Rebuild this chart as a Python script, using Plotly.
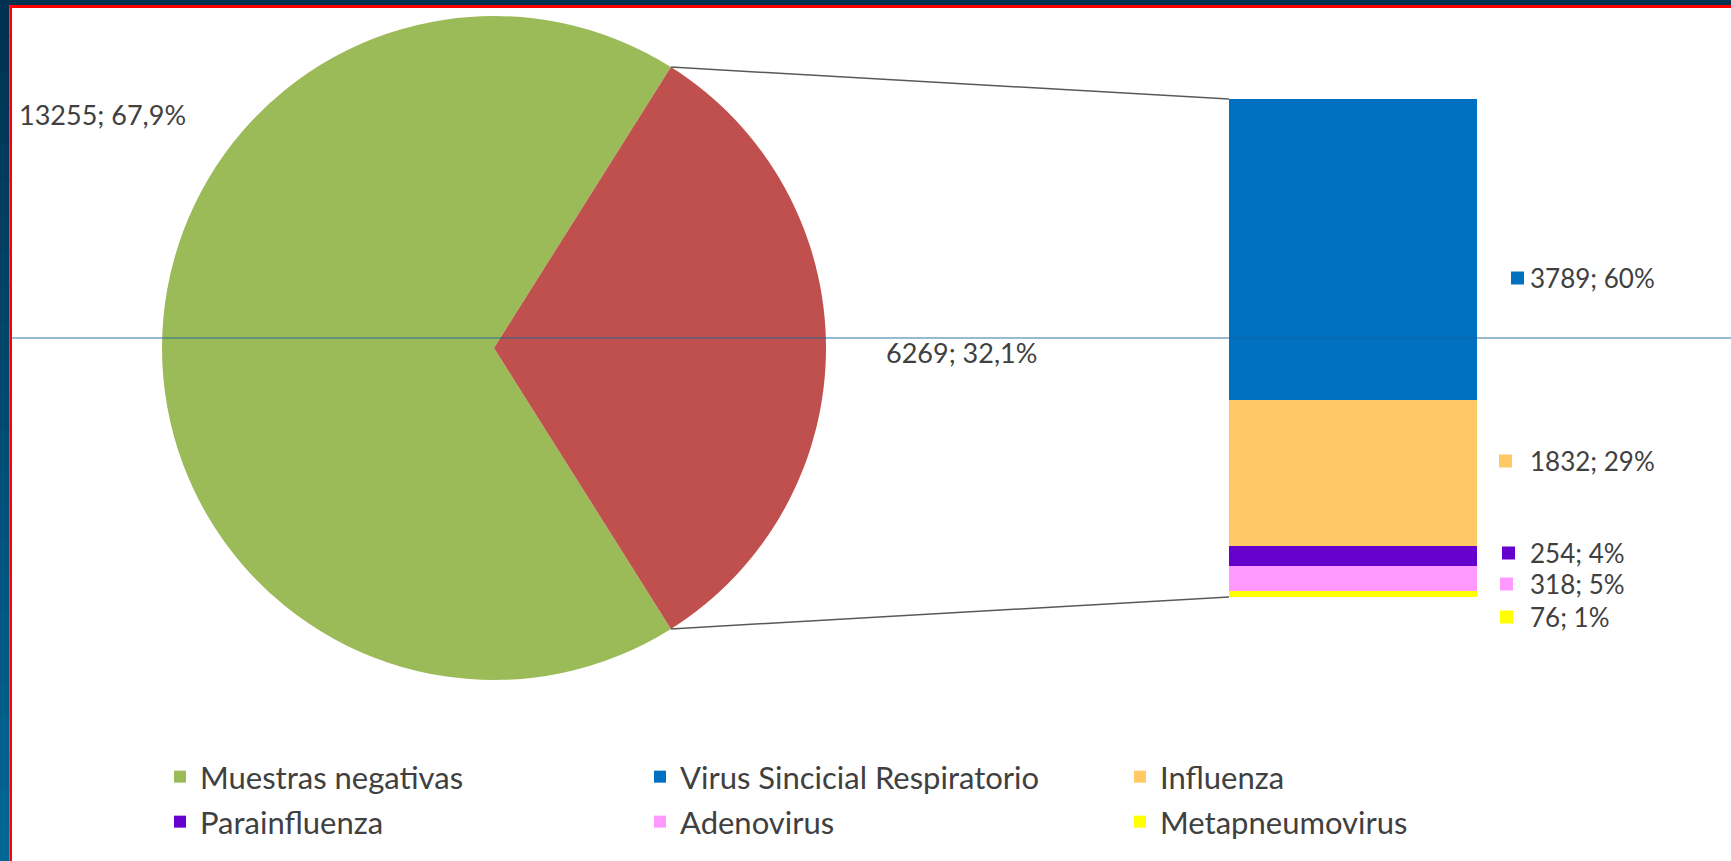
import math
import plotly.graph_objects as go

W, H = 1731, 861

# Samples: negative vs positive
sample_labels = ["Muestras negativas", "Muestras positivas"]
sample_values = [13255, 6269]
sample_colors = ["#9BBB59", "#C0504D"]

# Breakdown of the positive samples by virus (top to bottom of the column)
virus_labels = ["Virus Sincicial Respiratorio", "Influenza", "Parainfluenza",
                "Adenovirus", "Metapneumovirus"]
virus_values = [3789, 1832, 254, 318, 76]
virus_colors = ["#0070C0", "#FFC966", "#6600CC", "#FF99FF", "#FFFF00"]

TEXT = "#404040"
FONT = "Lato"


def fx(x):
    return x / W


def fy(y):
    return 1 - y / H


# pie placement (pixels)
PCX, PCY, PR = 494, 348, 332
# column placement (pixels)
BL, BR, BT, BB = 1229, 1477, 99, 597

total = sum(sample_values)
pos_share = sample_values[1] / total
half_angle = math.pi * pos_share  # half of the positive slice, centred on the right

fig = go.Figure()

# first slice (negatives) spans clockwise from `rotation`; it must end where
# the positive slice's upper edge sits, so the positive slice faces right
fig.add_trace(go.Pie(
    labels=sample_labels, values=sample_values, sort=False,
    direction="counterclockwise",
    rotation=90 + math.degrees(half_angle),
    marker=dict(colors=sample_colors, line=dict(width=0)),
    textinfo="none", hoverinfo="label+value+percent", showlegend=False,
    domain=dict(x=[fx(PCX - PR), fx(PCX + PR)], y=[fy(PCY + PR), fy(PCY - PR)]),
))

# legend entry for the negative samples (row 1)
fig.add_trace(go.Bar(
    x=[0], y=[0], name=sample_labels[0], width=1,
    marker=dict(color=sample_colors[0], line=dict(width=0)),
    legend="legend", legendrank=1, hoverinfo="skip",
))

legend_of = ["legend", "legend", "legend2", "legend2", "legend2"]
rank_of = [2, 3, 1, 2, 3]
# stack from the bottom up
for i in reversed(range(len(virus_labels))):
    fig.add_trace(go.Bar(
        x=[0], y=[virus_values[i]], name=virus_labels[i], width=1,
        marker=dict(color=virus_colors[i], line=dict(width=0)),
        legend=legend_of[i], legendrank=rank_of[i],
        hovertemplate=virus_labels[i] + ": %{y}<extra></extra>",
    ))

vtotal = sum(virus_values)

annotations = []
# pie labels
neg_pct = 100 * sample_values[0] / total
pos_pct = 100 * sample_values[1] / total
annotations.append(dict(
    text=f"{sample_values[0]}; {neg_pct:.1f}%".replace(".", ","),
    x=fx(17), y=fy(114), xref="paper", yref="paper",
    xanchor="left", yanchor="middle", showarrow=False,
    font=dict(family=FONT, size=27, color=TEXT)))
annotations.append(dict(
    text=f"{sample_values[1]}; {pos_pct:.1f}%".replace(".", ","),
    x=fx(884), y=fy(353), xref="paper", yref="paper",
    xanchor="left", yanchor="middle", showarrow=False,
    font=dict(family=FONT, size=27, color=TEXT)))

# column labels with colour keys
label_y = [278, 461, 553, 584, 617]
key_x = [1511, 1499, 1502, 1500, 1500]
shapes = []
for i, v in enumerate(virus_values):
    pct = round(100 * v / vtotal)
    annotations.append(dict(
        text=f"{v}; {pct}%", x=fx(1529), y=fy(label_y[i]),
        xref="paper", yref="paper", xanchor="left", yanchor="middle",
        showarrow=False, borderpad=0,
        font=dict(family=FONT, size=26, color=TEXT)))
    shapes.append(dict(
        type="rect", xref="paper", yref="paper",
        x0=fx(key_x[i]), x1=fx(key_x[i] + 13),
        y0=fy(label_y[i] + 6.5), y1=fy(label_y[i] - 6.5),
        fillcolor=virus_colors[i], line=dict(width=0)))

# connector lines from the positive slice edges to the column corners
top_pt = (PCX + PR * math.cos(half_angle), PCY - PR * math.sin(half_angle))
bot_pt = (PCX + PR * math.cos(half_angle), PCY + PR * math.sin(half_angle))
for (px, py), (qx, qy) in ((top_pt, (BL, BT)), (bot_pt, (BL, BB))):
    shapes.append(dict(
        type="line", xref="paper", yref="paper",
        x0=fx(px), y0=fy(py), x1=fx(qx), y1=fy(qy),
        line=dict(color="#595959", width=1.5)))

# thin horizontal rule across the slide
shapes.append(dict(
    type="line", xref="paper", yref="paper", x0=fx(12), x1=1,
    y0=fy(338), y1=fy(338), line=dict(color="rgba(20,100,150,0.6)", width=1.5),
    layer="above"))

# slide frame: dark band on top, gradient strip on the left, red edge
shapes.append(dict(type="rect", xref="paper", yref="paper", x0=0, x1=1,
                   y0=fy(5), y1=1, fillcolor="#00344F", line=dict(width=0)))
n_bands = 24
c0 = (0, 49, 80)
c1 = (0, 102, 150)
for k in range(n_bands):
    t = k / (n_bands - 1)
    col = tuple(round(a + (b - a) * t) for a, b in zip(c0, c1))
    shapes.append(dict(
        type="rect", xref="paper", yref="paper",
        x0=0, x1=fx(9.5), y0=fy(H * (k + 1) / n_bands + 1), y1=fy(H * k / n_bands),
        fillcolor="rgb(%d,%d,%d)" % col, line=dict(width=0)))
shapes.append(dict(type="rect", xref="paper", yref="paper", x0=fx(9.5), x1=1,
                   y0=fy(8), y1=fy(5), fillcolor="#FF0000", line=dict(width=0)))
shapes.append(dict(type="rect", xref="paper", yref="paper", x0=fx(9.5), x1=fx(12),
                   y0=0, y1=fy(5), fillcolor="#FF0000", line=dict(width=0)))

legend_common = dict(
    orientation="h", xanchor="left", yanchor="middle",
    font=dict(family=FONT, size=31, color=TEXT),
    entrywidth=435, entrywidthmode="pixels",
    bgcolor="rgba(0,0,0,0)", itemclick=False, itemdoubleclick=False,
    traceorder="normal",
)

fig.update_layout(
    width=W, height=H, margin=dict(l=0, r=0, t=0, b=0),
    paper_bgcolor="white", plot_bgcolor="rgba(0,0,0,0)",
    barmode="stack", bargap=0,
    xaxis=dict(domain=[fx(BL), fx(BR)], range=[-0.5, 0.5], visible=False,
               fixedrange=True),
    yaxis=dict(domain=[fy(BB), fy(BT)], range=[0, vtotal], visible=False,
               fixedrange=True),
    legend=dict(x=fx(160), y=fy(777), **legend_common),
    legend2=dict(x=fx(160), y=fy(822), **legend_common),
    annotations=annotations, shapes=shapes,
    showlegend=True,
)

fig.write_html("out.html")
